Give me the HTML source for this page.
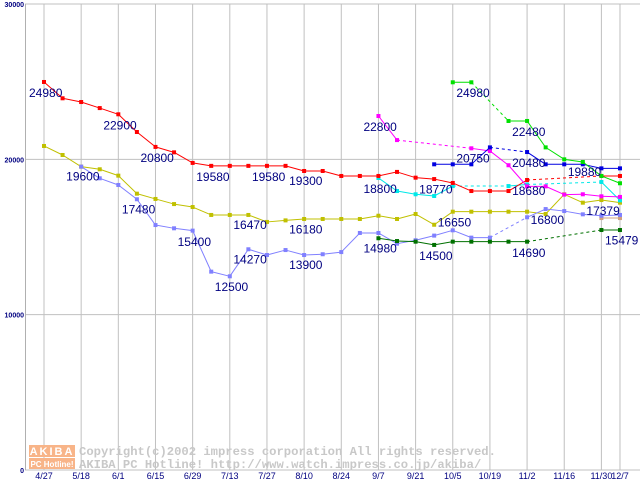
<!DOCTYPE html>
<html><head><meta charset="utf-8"><style>
html,body{margin:0;padding:0;background:#fff;}
svg{display:block;}
</style></head><body>
<svg id="chart" width="640" height="480" viewBox="0 0 640 480" xmlns="http://www.w3.org/2000/svg" font-family="Liberation Sans, sans-serif"></svg>
<script>
// ---- data ----
const categories = ["4/27","","5/18","","6/1","","6/15","","6/29","","7/13","","7/27","","8/10","","8/24","","9/7","","9/21","","10/5","","10/19","","11/2","","11/16","","11/30","12/7"];
const yTicks = [0, 10000, 20000, 30000];
const seriesRed = [24980,23930,23690,23300,22900,21760,20800,20450,19770,19580,19580,19580,19580,19580,19250,19250,18930,18930,18930,19190,18820,18730,18480,17960,17960,17960,18670,null,null,null,18930,18930];
const seriesOlive = [20860,20280,19530,19360,18950,17790,17450,17120,16930,16420,16420,16420,15970,16070,16160,16160,16160,16160,16370,16160,16480,15790,16630,16630,16630,16630,16630,16480,17750,17210,17380,17210];
const seriesLavender = [null,null,19530,18780,18350,17430,15770,15560,15410,12770,12470,14210,13840,14160,13840,13890,14030,15260,15260,14570,14790,15090,15430,14960,14960,null,16270,16800,16670,16460,16370,16420];
const seriesDarkGreen = [null,null,null,null,null,null,null,null,null,null,null,null,null,null,null,null,null,null,14920,14740,14700,14490,14700,14700,14700,14700,14700,null,null,null,15450,15450];
const seriesMagenta = [null,null,null,null,null,null,null,null,null,null,null,null,null,null,null,null,null,null,22790,21240,null,null,null,20710,20540,19620,18260,18260,17730,17750,17620,17580];
const seriesCyan = [null,null,null,null,null,null,null,null,null,null,null,null,null,null,null,null,null,null,18800,17960,17750,17640,18280,null,null,18280,18380,null,null,null,18540,17360];
const seriesBlue = [null,null,null,null,null,null,null,null,null,null,null,null,null,null,null,null,null,null,null,null,null,19680,19680,19680,20770,null,20470,19680,19680,19680,19420,19420];
const seriesGreen = [null,null,null,null,null,null,null,null,null,null,null,null,null,null,null,null,null,null,null,null,null,null,24960,24960,null,22470,22470,20770,20000,19830,18930,18460];
const seriesTan = [null,null,null,null,null,null,null,null,null,null,null,null,null,null,null,null,null,null,null,null,null,null,null,null,null,null,null,null,null,null,16220,16220];
const labelTexts = ["24980","22900","20800","19600","19580","19580","19300","17480","15400","16470","16180","14270","12500","13900","18800","22800","18770","20750","24980","22480","20480","19880","18680","16650","16800","17379","14980","14500","14690","15479"];
const labelIdx = [0,4,6,2,9,12,14,5,8,11,14,11,10,14,18,18,21,23,23,26,26,29,26,22,27,30,18,21,26,31];
const labelVals = [24980,22900,20800,19600,19580,19580,19300,17480,15400,16470,16180,14270,12500,13900,18800,22800,18770,20750,24980,22480,20480,19880,18680,16650,16800,17379,14980,14500,14690,15479];

// ---- axes ----
const X0 = 44, DX = 18.58;
function xPos(i){ return X0 + DX*i; }
function yPos(v){ return 470 - v*0.015533; }

const svg = document.getElementById('chart');
const NS = 'http://www.w3.org/2000/svg';
function mk(tag, attrs, parent){
  const e = document.createElementNS(NS, tag);
  for (const k in attrs) e.setAttribute(k, attrs[k]);
  (parent||svg).appendChild(e);
  return e;
}

// grid
const grid = mk('g', {});


yTicks.forEach(v => {
  const l = mk('line', {x1:25, x2:640, y1:yPos(v), y2:yPos(v), stroke:'#c0c0c0', 'stroke-width':1}, grid);
  
  
});
categories.forEach((c, i) => {
  if (c === '') return;
  const l = mk('line', {x1:xPos(i), x2:xPos(i), y1:4, y2:470, stroke:'#c0c0c0', 'stroke-width':1}, grid);
  
  
});
const ax = mk('line', {x1:25.5, x2:25.5, y1:4, y2:470, stroke:'#b0b0b0', 'stroke-width':1});



// y tick labels
yTicks.forEach(v => {
  const t = mk('text', {x:24, y:yPos(v)+3, 'font-size':7, 'font-weight':'bold', fill:'#000080', 'text-anchor':'end'});
  t.textContent = String(v);
  
  
});
// x tick labels
categories.forEach((c, i) => {
  if (c === '') return;
  const t = mk('text', {x:xPos(i), y:479, 'font-size':9, fill:'#000080', 'text-anchor':'middle'});
  t.textContent = c;
  
  
});

// watermark
const wm = mk('g', {});


mk('rect', {x:29, y:445, width:46, height:12, fill:'#f8b488'}, wm);
mk('rect', {x:29, y:458, width:46, height:11, fill:'#f8b488'}, wm);
const a1 = mk('text', {x:52, y:455, 'font-size':11, 'font-weight':'bold', fill:'#fff', 'text-anchor':'middle', 'letter-spacing':'2'}, wm); a1.textContent = 'AKIBA';
const a2 = mk('text', {x:52, y:467, 'font-size':8, 'font-weight':'bold', fill:'#fff', 'text-anchor':'middle'}, wm); a2.textContent = 'PC Hotline!';
const w1 = mk('text', {x:79, y:455, 'font-size':12.2, 'font-family':'Liberation Mono, monospace', 'font-weight':'bold', fill:'#c8c8c8'}, wm); w1.textContent = 'Copyright(c)2002 impress corporation All rights reserved.';
const w2 = mk('text', {x:79, y:468, 'font-size':12.2, 'font-family':'Liberation Mono, monospace', 'font-weight':'bold', fill:'#c8c8c8'}, wm); w2.textContent = 'AKIBA PC Hotline!  http://www.watch.impress.co.jp/akiba/';

// series
function drawSeries(data, color, name){
  const g = mk('g', {});
  
  
  let prev = -1;
  data.forEach((v, i) => {
    if (v === null) return;
    if (prev >= 0){
      const attrs = {x1:xPos(prev), y1:yPos(data[prev]), x2:xPos(i), y2:yPos(v), stroke:color, 'stroke-width':1};
      if (i - prev > 1) attrs['stroke-dasharray'] = '3,3';
      const l = mk('line', attrs, g);
      
      
    }
    prev = i;
  });
  data.forEach((v, i) => {
    if (v === null) return;
    const r = mk('rect', {x:xPos(i)-2, y:yPos(v)-2, width:4, height:4, fill:color}, g);
    
    
  });
}
drawSeries(seriesTan, '#d0a080', 'series-tan');
drawSeries(seriesOlive, '#c0c000', 'series-olive');
drawSeries(seriesLavender, '#8080ff', 'series-lavender');
drawSeries(seriesDarkGreen, '#007000', 'series-dark-green');
drawSeries(seriesCyan, '#00e8e8', 'series-cyan');
drawSeries(seriesRed, '#ff0000', 'series-red');
drawSeries(seriesMagenta, '#ff00ff', 'series-magenta');
drawSeries(seriesBlue, '#0000e0', 'series-blue');
drawSeries(seriesGreen, '#00e000', 'series-green');

// value labels
labelTexts.forEach((s, k) => {
  const t = mk('text', {x:xPos(labelIdx[k]) - 15, y:yPos(labelVals[k]) + 15, 'font-size':12, fill:'#000080'});
  t.textContent = s;
  
  
});
</script>
</body></html>
